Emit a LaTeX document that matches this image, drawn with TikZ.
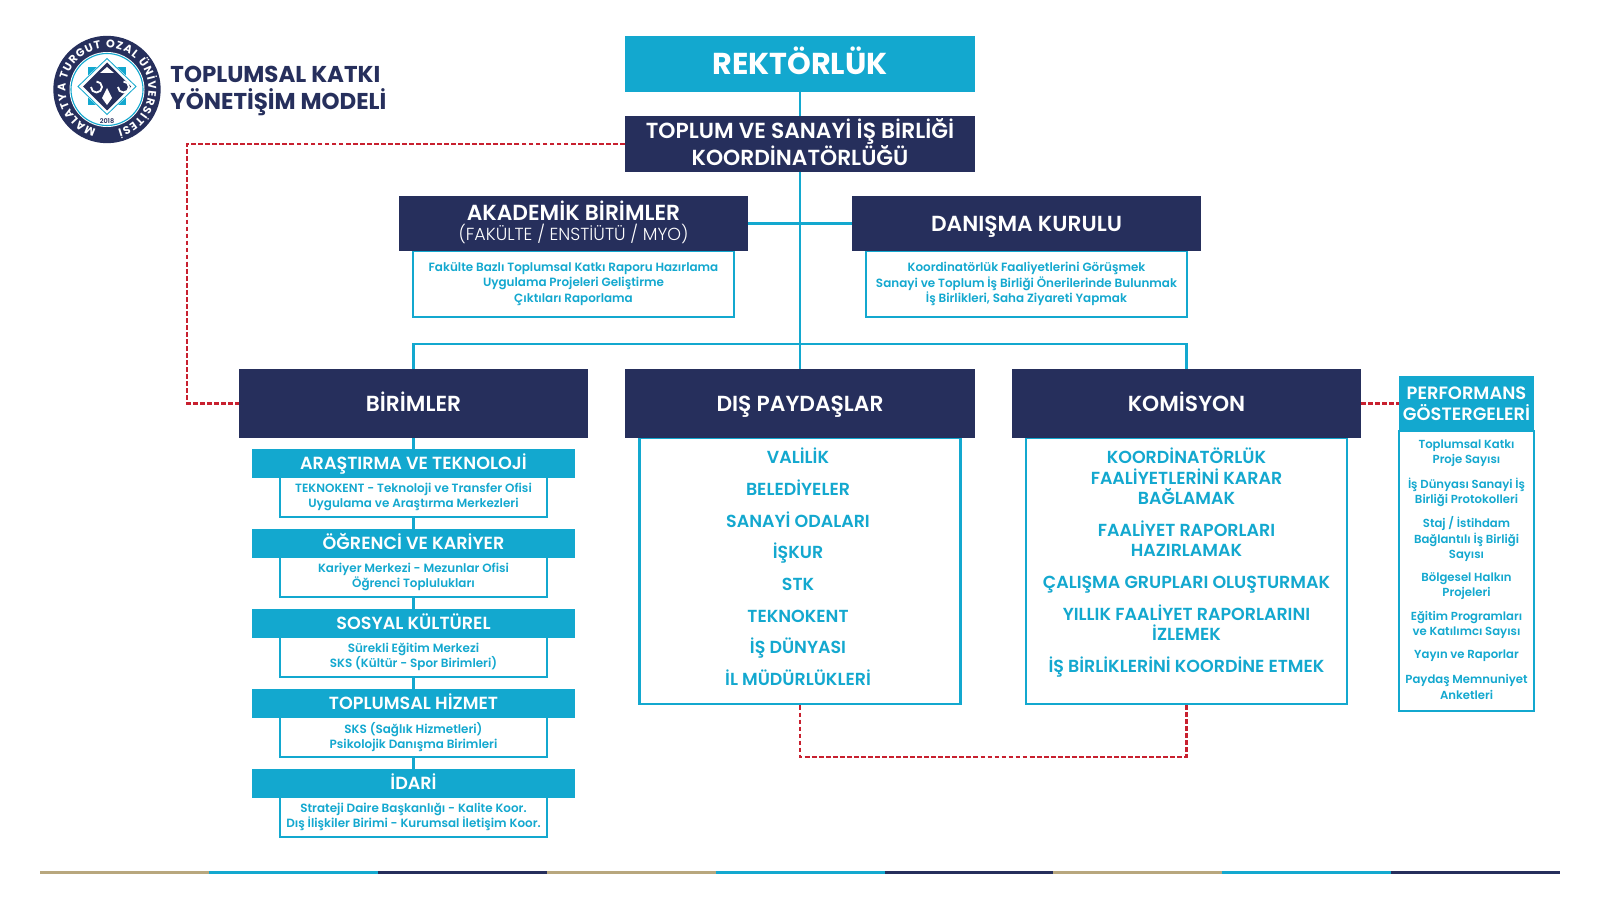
\documentclass[tikz,border=0pt]{standalone}
\usepackage{fontspec}
\setmainfont{Poppins}[UprightFont=*-Medium,BoldFont=*-SemiBold]
\newfontfamily\heavyfont{Poppins}[UprightFont=*-Bold,BoldFont=*-Bold]
\newfontfamily\lightfont{Poppins}[UprightFont=*-Light,BoldFont=*-Light]
\usepackage{xcolor}
\definecolor{navy}{HTML}{262F5C}
\definecolor{cyanbar}{HTML}{13A8CF}
\definecolor{redline}{HTML}{C8202F}
\definecolor{tan}{HTML}{B8A77E}
\usetikzlibrary{arrows.meta, positioning, calc, decorations.text}

\tikzset{
  boxsize/.style 2 args={minimum width=#1*0.025cm, minimum height=#2*0.025cm},
  capfit/.style={text height=#1, text depth=0pt},
  navybox/.style={fill=navy, text=white, font=\bfseries\fontsize{15.5}{19.5}\selectfont, align=center, inner sep=0pt},
  cyanbox/.style={fill=cyanbar, text=white, font=\bfseries\fontsize{12.5}{16}\selectfont, align=center, inner sep=0pt},
  framebox/.style={draw=cyanbar, fill=white, line width=2.1pt, inner sep=0pt},
  bodytext/.style={text=cyanbar, font=\bfseries\fontsize{8.5}{10.8}\selectfont, align=center},
  listtext/.style={text=cyanbar, font=\bfseries\fontsize{12.4}{14.5}\selectfont, align=center},
  cyanline/.style={draw=cyanbar, line width=2.1pt},
  redlink/.style={draw=redline, line width=1.9pt, dash pattern=on 3.4pt off 1.6pt}
}

\begin{document}
\begin{tikzpicture}[x=0.025cm, y=-0.025cm]
  \useasboundingbox (0,0) rectangle (1600,900);
  \fill[white] (0,0) rectangle (1600,900);

  % trunk lines first, boxes go over them
  \coordinate (bus) at (800,344);
  \node[cyanbox, boxsize={350}{56}, capfit=15pt, font=\heavyfont\fontsize{21.5}{26}\selectfont] (rektor) at (800,64) {REKTÖRLÜK};
  \node[navybox, boxsize={350}{56}, text depth=3pt, font=\bfseries\fontsize{15.5}{18}\selectfont] (koord) at (800,144) {TOPLUM VE SANAYİ İŞ BİRLİĞİ\\KOORDİNATÖRLÜĞÜ};
  \draw[cyanline] (rektor) -- (koord);

  % upper boxes
  \node[framebox, boxsize={321}{66}, bodytext] (akabody) at (573.5,284) {Fakülte Bazlı Toplumsal Katkı Raporu Hazırlama\\Uygulama Projeleri Geliştirme\\Çıktıları Raporlama};
  \node[framebox, boxsize={321}{66}, bodytext] (danbody) at (1026.5,284) {Koordinatörlük Faaliyetlerini Görüşmek\\Sanayi ve Toplum İş Birliği Önerilerinde Bulunmak\\İş Birlikleri, Saha Ziyareti Yapmak};
  \node[navybox, boxsize={349}{55}, text depth=4pt] (akad) at (573.5,223.5) {\fontsize{15.5}{16}\selectfont AKADEMİK BİRİMLER\\[-5.5pt]{\lightfont\fontsize{12.4}{13}\selectfont (FAKÜLTE / ENSTİÜTÜ / MYO)}};
  \node[navybox, boxsize={349}{55}, capfit=10.8pt] (danis) at (1026.5,223.5) {DANIŞMA KURULU};

  % lower boxes
  \node[framebox, boxsize={321}{266}] (paybody) at (800,571) {};
  \node[framebox, boxsize={321}{266}] (kombody) at (1186.5,571) {};
  \node[navybox, boxsize={349}{69}, capfit=10.8pt] (birim) at (413.5,403.5) {BİRİMLER};
  \node[navybox, boxsize={350}{69}, capfit=10.8pt] (paydas) at (800,403.5) {DIŞ PAYDAŞLAR};
  \node[navybox, boxsize={349}{69}, capfit=10.8pt] (komis) at (1186.5,403.5) {KOMİSYON};

  \draw[cyanline] (koord) -- (paydas);
  \draw[cyanline] (akad) -- (danis);
  \draw[cyanline] (birim.north) -- (birim.north |- bus) -- (komis.north |- bus) -- (komis.north);

  % birimler column
  \foreach \i/\y/\head/\body in {
    ara/449/ARAŞTIRMA VE TEKNOLOJİ/{TEKNOKENT - Teknoloji ve Transfer Ofisi\\Uygulama ve Araştırma Merkezleri},
    ogr/529/ÖĞRENCİ VE KARİYER/{Kariyer Merkezi - Mezunlar Ofisi\\Öğrenci Toplulukları},
    sos/609/SOSYAL KÜLTÜREL/{Sürekli Eğitim Merkezi\\SKS (Kültür - Spor Birimleri)},
    top/689/TOPLUMSAL HİZMET/{SKS (Sağlık Hizmetleri)\\Psikolojik Danışma Birimleri},
    ida/769/İDARİ/{Strateji Daire Başkanlığı - Kalite Koor.\\Dış İlişkiler Birimi - Kurumsal İletişim Koor.}} {
    \node[framebox, boxsize={267}{40}, bodytext] (\i body) at (413.5,\y+48) {\body};
    \node[cyanbox, boxsize={323}{29}, capfit=8.8pt] (\i) at (413.5,\y+14.5) {\head};
  }
  \draw[cyanline] (birim) -- (ara);
  \draw[cyanline] (arabody) -- (ogr);
  \draw[cyanline] (ogrbody) -- (sos);
  \draw[cyanline] (sosbody) -- (top);
  \draw[cyanline] (topbody) -- (ida);

  % dis paydaslar
  \foreach \i/\y/\txt in {1/463/VALİLİK, 2/495/BELEDİYELER, 3/527/SANAYİ ODALARI, 4/558/İŞKUR, 5/590/STK, 6/622/TEKNOKENT, 7/653/İŞ DÜNYASI, 8/685/İL MÜDÜRLÜKLERİ}
    \node[listtext, anchor=base] (pay\i) at (798,\y) {\txt};

  % komisyon
  \node[listtext] (kom1) at (1186.5,476.5) {KOORDİNATÖRLÜK\\FAALİYETLERİNİ KARAR\\BAĞLAMAK};
  \node[listtext] (kom2) at (1186.5,538.5) {FAALİYET RAPORLARI\\HAZIRLAMAK};
  \node[listtext] (kom3) at (1186.5,585) {ÇALIŞMA GRUPLARI OLUŞTURMAK};
  \node[listtext] (kom4) at (1186.5,622.5) {YILLIK FAALİYET RAPORLARINI\\İZLEMEK};
  \node[listtext] (kom5) at (1186.5,667.5) {İŞ BİRLİKLERİNİ KOORDİNE ETMEK};

  % performans
  \node[framebox, boxsize={135}{280}] (perfbody) at (1466.5,571) {};
  \node[cyanbox, boxsize={135}{55}, font=\bfseries\fontsize{12.7}{15.2}\selectfont] (perf) at (1466.5,403.5) {PERFORMANS\\GÖSTERGELERİ};
  \foreach \i/\y/\txt in {1/453/{Toplumsal Katkı\\Proje Sayısı}, 2/492/{İş Dünyası Sanayi İş\\Birliği Protokolleri}, 3/539/{Staj / İstihdam\\Bağlantılı İş Birliği\\Sayısı}, 4/586/{Bölgesel Halkın\\Projeleri}, 5/625/{Eğitim Programları\\ve Katılımcı Sayısı}, 6/656/{Yayın ve Raporlar}, 7/687/{Paydaş Memnuniyet\\Anketleri}}
    \node[bodytext, font=\bfseries\fontsize{8.3}{10.8}\selectfont] (perf\i) at (1466.5,\y) {\txt};

  % red links
  \coordinate (redleft) at (187,144);
  \coordinate (redlow) at (800,757);
  \draw[redlink] (koord.west) -- (redleft) -- (redleft |- birim.west) -- (birim.west);
  \draw[redlink] (komis.east) -- (perf.west);
  \draw[redlink] (paybody.south) -- (redlow) -- (redlow -| kombody.south) -- (kombody.south);

  % logo
  \fill[navy] (107,89.5) circle (53.7);
  \fill[white] (107,89.5) circle (37.5);
  \draw[cyanbar, line width=0.8pt] (107,89.5) circle (36);
  \fill[white] (107,89.5) circle (34.5);
  \fill[cyanbar] (88,67.5) rectangle (126,105.5);
  \fill[white] (107,57.5) -- (137,86.5) -- (107,115.5) -- (77,86.5) -- cycle;
  \draw[cyanbar, line width=0.6pt] (107,58.5) -- (136,86.5) -- (107,114.5) -- (78,86.5) -- cycle;
  \fill[navy] (107,62.5) -- (131,86.5) -- (107,110.5) -- (83,86.5) -- cycle;
  \fill[white] (107,67) -- (114,73) -- (100,73) -- cycle;
  \fill[white] (107,88) -- (112,98) -- (107,105) -- (102,98) -- cycle;
  \draw[white, line width=1.3pt] (91,87) arc[start angle=180, end angle=-90, radius=5.5] (118,87) arc[start angle=180, end angle=-90, radius=5.5];
  \node[text=navy, font=\bfseries\fontsize{4.6}{6}\selectfont] (logoyear) at (107,121.5) {2018};
  \path[decorate, decoration={text along path, text align=fit to path,
    text={|\heavyfont\fontsize{7.9}{9}\selectfont\color{white}|MALATYA TURGUT OZAL ÜNİVERSİTESİ}}]
    (107,89.5) ++(105:41.5) arc[start angle=105, end angle=435, radius=41.5];

  \node[text=navy, font=\heavyfont\fontsize{16.3}{19.6}\selectfont, align=left, anchor=west] (title) at (165.5,91) {TOPLUMSAL KATKI\\YÖNETİŞİM MODELİ};

  % bottom rule
  \foreach \i/\c in {0/tan,1/cyanbar,2/navy,3/tan,4/cyanbar,5/navy,6/tan,7/cyanbar,8/navy}
    \fill[\c] (40+\i*168.9,870.5) rectangle (40+\i*168.9+168.9,873.5);
\end{tikzpicture}
\end{document}
